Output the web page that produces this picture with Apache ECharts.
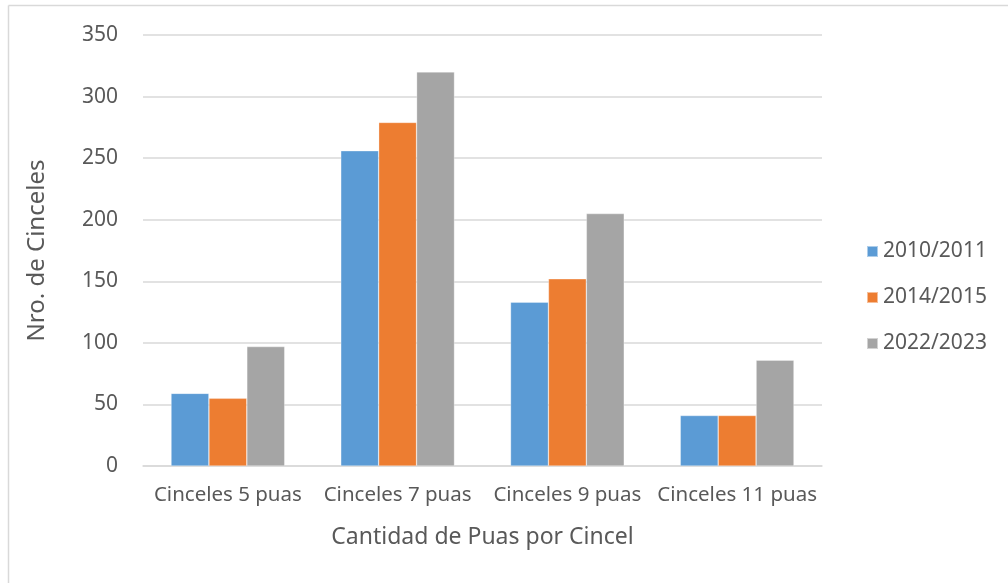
<!DOCTYPE html>
<html>
<head>
<meta charset="utf-8">
<script src="https://cdn.jsdelivr.net/npm/echarts@6/dist/echarts.min.js"></script>
<style>html,body{margin:0;padding:0;background:#fff}#c{width:1008px;height:583px}</style>
</head>
<body>
<div id="c"></div>
<script>
const categories = ['Cinceles 5 puas', 'Cinceles 7 puas', 'Cinceles 9 puas', 'Cinceles 11 puas'];
const seriesNames = ['2010/2011', '2014/2015', '2022/2023'];
const s2010 = [59, 256, 133, 41];
const s2014 = [55, 279, 152, 41];
const s2022 = [97, 320, 205, 86];
const colors = ['#5B9BD5', '#ED7D31', '#A5A5A5'];
const FONT = 'Noto Sans';
const chart = echarts.init(document.getElementById('c'));
const mk = (name, data, i) => ({
  name, type: 'bar', data, barGap: '0%', barCategoryGap: '33%',
  itemStyle: { color: colors[i], borderColor: 'rgba(255,255,255,0.5)', borderWidth: 0.6 }
});
chart.setOption({
  animation: false,
  textStyle: { fontFamily: FONT, color: '#595959' },
  graphic: [
    { type: 'line', shape: { x1: 8.5, y1: 5.5, x2: 1008, y2: 5.5 }, style: { stroke: '#D9D9D9', lineWidth: 1.5 } },
    { type: 'line', shape: { x1: 8.5, y1: 5.5, x2: 8.5, y2: 583 }, style: { stroke: '#D9D9D9', lineWidth: 1.5 } }
  ],
  grid: { left: 143, right: 186, top: 35, bottom: 117 },
  legend: {
    orient: 'vertical', left: 861, top: 236, itemGap: 25, itemWidth: 11, itemHeight: 11,
    icon: 'rect',
    textStyle: { fontFamily: FONT, fontSize: 21, color: '#595959' },
    data: seriesNames
  },
  xAxis: {
    type: 'category', data: categories,
    name: 'Cantidad de Puas por Cincel', nameLocation: 'middle', nameGap: 60,
    nameTextStyle: { fontFamily: FONT, fontSize: 23, color: '#595959' },
    axisLine: { lineStyle: { color: '#D9D9D9', width: 1.5 } },
    axisTick: { show: false },
    axisLabel: { fontFamily: FONT, fontSize: 20.5, color: '#595959', margin: 19, interval: 0, hideOverlap: false }
  },
  yAxis: {
    type: 'value', min: 0, max: 350, interval: 50,
    name: 'Nro. de Cinceles', nameLocation: 'middle', nameGap: 94,
    nameTextStyle: { fontFamily: FONT, fontSize: 24, color: '#595959' },
    axisLine: { show: false }, axisTick: { show: false },
    splitLine: { lineStyle: { color: '#D9D9D9', width: 1.5 } },
    axisLabel: { fontFamily: FONT, fontSize: 21, color: '#595959', margin: 25 }
  },
  series: [mk(seriesNames[0], s2010, 0), mk(seriesNames[1], s2014, 1), mk(seriesNames[2], s2022, 2)]
});
</script>
</body>
</html>
